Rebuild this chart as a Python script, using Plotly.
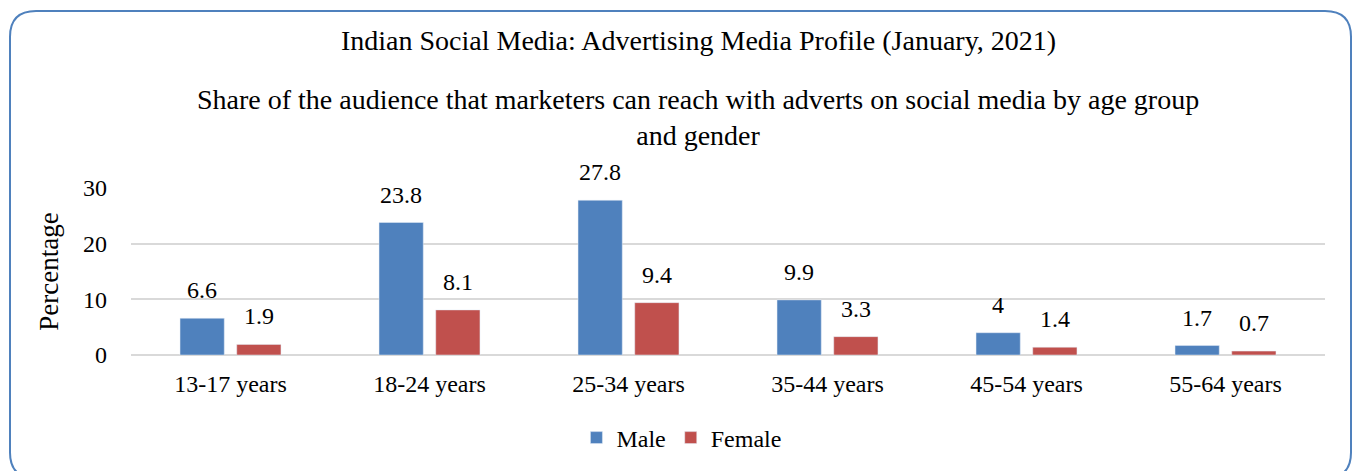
import plotly.graph_objects as go

categories = ["13-17 years", "18-24 years", "25-34 years", "35-44 years", "45-54 years", "55-64 years"]
male = [6.6, 23.8, 27.8, 9.9, 4, 1.7]
female = [1.9, 8.1, 9.4, 3.3, 1.4, 0.7]
y_ticks = [0, 10, 20, 30]

W, H = 1353, 471
L, R, T, B = 131, 1325, 188, 356  # plot area in px

FONT = "Liberation Serif"
BARGAP = 0.43
BARGROUPGAP = 0.22

def px2paper(x, y):
    return (x - L) / (R - L), (B - y) / (B - T)

def rounded_rect(x0, y0, x1, y1, r):
    def p(x, y):
        a, b = px2paper(x, y)
        return f"{a:.5f},{b:.5f}"
    d = f"M {p(x0 + r, y0)} L {p(x1 - r, y0)} Q {p(x1, y0)} {p(x1, y0 + r)} "
    d += f"L {p(x1, y1 - r)} Q {p(x1, y1)} {p(x1 - r, y1)} "
    d += f"L {p(x0 + r, y1)} Q {p(x0, y1)} {p(x0, y1 - r)} "
    d += f"L {p(x0, y0 + r)} Q {p(x0, y0)} {p(x0 + r, y0)} Z"
    return d

fig = go.Figure()
fig.add_trace(go.Bar(x=categories, y=male, name="Male", marker_color="#4F81BD"))
fig.add_trace(go.Bar(x=categories, y=female, name="Female", marker_color="#C0504D"))

# data labels placed above each bar (bar centres follow from the group layout)
slot = (1 - BARGAP) / 2
annotations = []
for k, series in enumerate([male, female]):
    off = (k - 0.5) * slot
    for i, v in enumerate(series):
        annotations.append(dict(x=i + off, y=v, xref="x", yref="y", text=f"{v:g}",
                                showarrow=False, xanchor="center", yanchor="bottom",
                                yshift=13, font=dict(family=FONT, size=24, color="#000000")))

annotations += [
    dict(text="Indian Social Media: Advertising Media Profile (January, 2021)",
         xref="paper", yref="paper", x=px2paper(698, 0)[0], y=px2paper(0, 40)[1],
         xanchor="center", yanchor="middle", showarrow=False,
         font=dict(family=FONT, size=28)),
    dict(text="Share of the audience that marketers can reach with adverts on social media by age group<br>and gender",
         xref="paper", yref="paper", x=px2paper(698, 0)[0], y=px2paper(0, 117)[1],
         xanchor="center", yanchor="middle", showarrow=False,
         font=dict(family=FONT, size=28)),
]

fig.update_layout(
    width=W, height=H,
    margin=dict(l=L, r=W - R, t=T, b=H - B),
    paper_bgcolor="white", plot_bgcolor="white",
    barmode="group", bargap=BARGAP, bargroupgap=BARGROUPGAP,
    font=dict(family=FONT, size=24, color="#000000"),
    showlegend=True,
    legend=dict(orientation="h", x=0.461, xanchor="center", y=(B - 438) / (B - T), yanchor="middle",
                font=dict(family=FONT, size=24), itemwidth=30, traceorder="normal"),
    xaxis=dict(showgrid=False, showline=False, ticks="", tickfont=dict(size=24),
               ticklabelstandoff=12),
    yaxis=dict(range=[0, 30], tickvals=y_ticks, showgrid=True, gridcolor="#D9D9D9", gridwidth=2,
               zeroline=True, zerolinecolor="#D9D9D9", zerolinewidth=2, showline=False,
               ticks="", tickfont=dict(size=24), ticklabelstandoff=23,
               title=dict(text="Percentage", font=dict(size=27), standoff=16)),
    shapes=[dict(type="path", xref="paper", yref="paper", layer="above",
                 path=rounded_rect(10, 10, 1351, 480, 26),
                 line=dict(color="#4F81BD", width=2), fillcolor="rgba(0,0,0,0)")],
    annotations=annotations,
)

fig.write_html("out.html")
